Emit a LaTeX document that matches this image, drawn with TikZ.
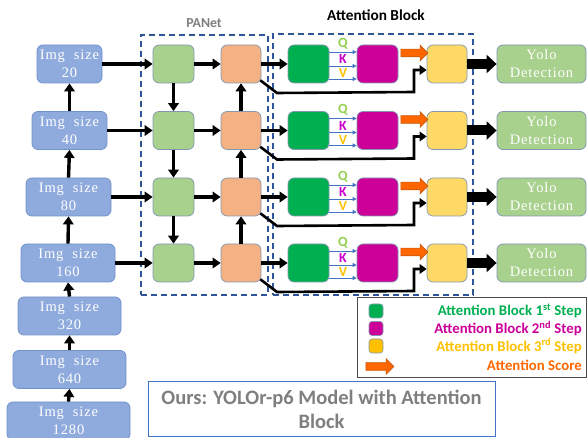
\documentclass[tikz,border=0pt]{standalone}
\usepackage{fontspec}
\setmainfont{Liberation Serif}
\newfontfamily\imgfont[LetterSpace=6]{Liberation Serif}
\newfontfamily\calib{Carlito}
\usetikzlibrary{arrows.meta,shapes.arrows,calc}
\definecolor{imgblue}{HTML}{8FAADC}
\definecolor{imgborder}{HTML}{7292CC}
\definecolor{sqborder}{HTML}{8497B0}
\definecolor{pgreen}{HTML}{A9D18E}
\definecolor{porange}{HTML}{F4B183}
\definecolor{agreen}{HTML}{00B050}
\definecolor{amag}{HTML}{CC0099}
\definecolor{ayellow}{HTML}{FFD966}
\definecolor{lyellow}{HTML}{FFC000}
\definecolor{aorange}{HTML}{FF6600}
\definecolor{aorangedk}{HTML}{C55A11}
\definecolor{dashblue}{HTML}{2F5597}
\definecolor{qcol}{HTML}{92D050}
\definecolor{kcol}{HTML}{CC00CC}
\definecolor{vcol}{HTML}{FFC000}
\definecolor{qkvline}{HTML}{4472C4}
\definecolor{titlegrey}{HTML}{7F7F7F}
\definecolor{titleblue}{HTML}{4472C4}
\tikzset{
  imgbox/.style={rectangle, rounded corners=6pt, fill=imgblue, draw=imgborder, line width=0.8pt,
    minimum height=38pt, text=white, font=\imgfont\fontsize{14.5}{18}\selectfont, align=center, inner sep=0pt},
  sq/.style={rectangle, rounded corners=6pt, minimum width=41pt, minimum height=38pt,
    draw=sqborder, line width=0.7pt, inner sep=0pt},
  yolobox/.style={rectangle, rounded corners=6pt, fill=pgreen, draw=sqborder, line width=0.8pt,
    minimum width=89pt, minimum height=38pt, text=white, font=\imgfont\fontsize{14.5}{18}\selectfont,
    align=center, inner sep=0pt},
  arr/.style={line width=3.4pt, -{Triangle[length=8pt,width=10.5pt]}},
  bent/.style={line width=2.6pt, -{Triangle[length=7pt,width=9.5pt]}},
  bigarr/.style={line width=10pt, -{Triangle[length=10pt,width=18pt]}},
  qkv/.style={draw=qkvline, line width=0.8pt, -{Triangle[length=4pt,width=4pt]}},
  qkvlbl/.style={font=\calib\bfseries\fontsize{14}{14}\selectfont, inner sep=0pt},
  oarrow/.style={single arrow, fill=aorange, draw=aorangedk, line width=0.6pt, inner sep=3.5pt,
    minimum width=15pt, single arrow head extend=4pt, minimum height=27pt},
  dashbox/.style={draw=dashblue, line width=1.2pt, dash pattern=on 6pt off 4pt, rectangle, inner sep=0pt},
  lsq/.style={rectangle, rounded corners=3pt, minimum width=14pt, minimum height=14pt,
    draw=sqborder, line width=0.6pt, inner sep=0pt},
  ltext/.style={font=\calib\bfseries\fontsize{14.8}{16}\selectfont, anchor=east, inner sep=0pt},
}
\begin{document}
\begin{tikzpicture}[x=1pt,y=-1pt]
\useasboundingbox (0,0) rectangle (587,438);
% titles
\node[font=\calib\bfseries\fontsize{13.8}{15}\selectfont, text=titlegrey] (panetlbl) at (204,23) {PANet};
\node[font=\calib\bfseries\fontsize{15.3}{16}\selectfont] (attlbl) at (376,15) {Attention Block};
% dashed boxes
\node[dashbox, minimum width=127pt, minimum height=260pt] (panet) at (204.5,165) {};
\node[dashbox, minimum width=200pt, minimum height=261pt] (attbox) at (373,164.5) {};
% left column
\node[imgbox, minimum width=65pt] (L1) at (69.5,64) {Img~~size\\20};
\node[imgbox, minimum width=75pt] (L2) at (69.5,130.5) {Img~~size\\40};
\node[imgbox, minimum width=85pt] (L3) at (68.5,197) {Img~~size\\80};
\node[imgbox, minimum width=94pt] (L4) at (68,263) {Img~~size\\160};
\node[imgbox, minimum width=103pt] (L5) at (69.5,316) {Img~~size\\320};
\node[imgbox, minimum width=113pt] (L6) at (69.5,369.5) {Img~~size\\640};
\node[imgbox, minimum width=123pt] (L7) at (68.5,421) {Img~~size\\1280};
\draw[arr] (L2.north) -- (L1.south);
\draw[arr] (L3.north) -- (L2.south);
\draw[arr] (L4.north) -- (L3.south);
\draw[arr] (L5.north) -- (L4.south);
\draw[arr] (L6.north) -- (L5.south);
\draw[arr] (L7.north) -- (L6.south);
% rows
\foreach \i/\c in {1/64,2/130.5,3/197,4/263} {
  \node[sq, fill=pgreen] (G\i) at (173.5,\c) {};
  \node[sq, fill=porange, minimum width=40pt] (O\i) at (241,\c) {};
  \node[sq, fill=agreen] (A\i) at (308.5,\c) {};
  \node[sq, fill=amag] (M\i) at (377.5,\c) {};
  \node[sq, fill=ayellow, minimum width=40pt] (Y\i) at (447,\c) {};
  \node[yolobox] (D\i) at (541.5,\c) {Yolo\\Detection};
  \draw[arr] (L\i.east) -- (G\i.west);
  \draw[arr] (G\i.east) -- (O\i.west);
  \draw[arr] (O\i.east) -- (A\i.west);
  \draw[qkv] ([yshift=12pt]A\i.east) -- node[qkvlbl, text=qcol, yshift=8.5pt] (q\i) {Q} ([yshift=12pt]M\i.west);
  \draw[qkv] ([yshift=-2pt]A\i.east) -- node[qkvlbl, text=kcol, yshift=7pt] (k\i) {K} ([yshift=-2pt]M\i.west);
  \draw[qkv] ([yshift=-15pt]A\i.east) -- node[qkvlbl, text=vcol, yshift=6pt] (v\i) {V} ([yshift=-15pt]M\i.west);
  \path ([yshift=11pt]M\i.east) -- node[oarrow] (oa\i) {} ([yshift=11pt]Y\i.west);
  \draw[bigarr] (Y\i.east) -- (D\i.west);
  \coordinate (s\i) at ([shift={(-1pt,3pt)}]O\i.south east);
  \coordinate (b\i) at (277,\c+29);
  \coordinate (c\i) at (414,\c+28);
  \coordinate (t\i) at ([yshift=-6pt]Y\i.west);
  \draw[bent] (s\i) -- (b\i) -- (c\i) |- (t\i);
}
\draw[arr] (G1.south) -- (G2.north);
\draw[arr] (G2.south) -- (G3.north);
\draw[arr] (G3.south) -- (G4.north);
\draw[arr] (O4.north) -- (O3.south);
\draw[arr] (O3.north) -- (O2.south);
\draw[arr] (O2.north) -- (O1.south);
% legend
\node[draw=black!70, line width=0.8pt, rectangle, minimum width=229pt, minimum height=80pt, inner sep=0pt] (legend) at (471.5,337) {};
\node[lsq, fill=agreen] (lg1) at (376,311) {};
\node[lsq, fill=amag] (lg2) at (376,328.5) {};
\node[lsq, fill=lyellow] (lg3) at (376,346) {};
\node[oarrow, minimum height=28pt] (lg4) at (378,366.5) {};
\node[ltext, text=agreen] (lt1) at (582,311) {Attention Block 1\textsuperscript{st} Step};
\node[ltext, text=amag] (lt2) at (582,328.5) {Attention Block 2\textsuperscript{nd} Step};
\node[ltext, text=lyellow] (lt3) at (582,346) {Attention Block 3\textsuperscript{rd} Step};
\node[ltext, text=aorange] (lt4) at (582,365) {Attention Score};
% title box
\node[draw=titleblue, line width=1pt, rectangle, minimum width=347pt, minimum height=55pt, inner sep=0pt,
  text=titlegrey, font=\calib\bfseries\fontsize{20.5}{24}\selectfont, align=center] (title) at (321.5,409.5)
  {Ours: YOLOr-p6 Model with Attention\\Block};
\end{tikzpicture}
\end{document}
